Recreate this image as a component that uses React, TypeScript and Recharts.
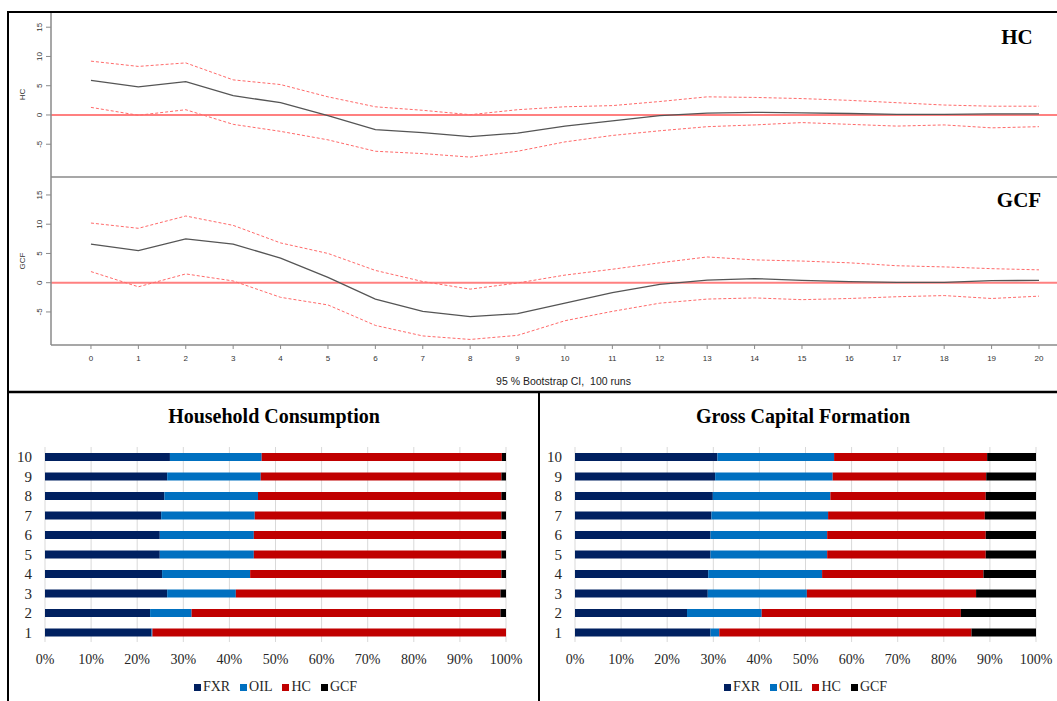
import {
  Bar,
  BarChart,
  CartesianGrid,
  Line,
  LineChart,
  ReferenceLine,
  XAxis,
  YAxis,
} from "recharts";

// impulse response horizon
const horizon = [0, 1, 2, 3, 4, 5, 6, 7, 8, 9, 10, 11, 12, 13, 14, 15, 16, 17, 18, 19, 20];

// response of HC
const hcIrf = [5.9, 4.8, 5.7, 3.3, 2.1, -0.1, -2.5, -3.0, -3.7, -3.1, -1.9, -1.0, -0.1, 0.3, 0.45, 0.35, 0.25, 0.1, 0.1, 0.2, 0.2];
const hcUpper = [9.2, 8.3, 8.9, 6.0, 5.2, 3.1, 1.4, 0.8, 0.05, 0.9, 1.4, 1.6, 2.3, 3.1, 3.0, 2.8, 2.5, 2.1, 1.7, 1.5, 1.5];
const hcLower = [1.3, -0.05, 0.9, -1.6, -2.8, -4.25, -6.2, -6.6, -7.2, -6.2, -4.6, -3.5, -2.7, -2.0, -1.7, -1.3, -1.6, -1.9, -1.7, -2.2, -2.0];

// response of GCF
const gcfIrf = [6.6, 5.5, 7.5, 6.6, 4.2, 0.9, -2.8, -4.9, -5.8, -5.3, -3.5, -1.7, -0.3, 0.45, 0.7, 0.4, 0.2, 0.05, 0.05, 0.35, 0.4];
const gcfUpper = [10.2, 9.3, 11.4, 9.8, 6.8, 5.0, 2.1, 0.2, -1.1, -0.05, 1.3, 2.3, 3.4, 4.4, 3.9, 3.7, 3.4, 2.9, 2.7, 2.4, 2.2];
const gcfLower = [1.9, -0.7, 1.5, 0.3, -2.5, -3.8, -7.3, -9.1, -9.7, -9.0, -6.5, -4.9, -3.5, -2.8, -2.6, -2.9, -2.7, -2.4, -2.2, -2.7, -2.3];

const irfTicks = [-5, 0, 5, 10, 15];

// variance decomposition, periods 1..10 (shares in %)
const periods = ["1", "2", "3", "4", "5", "6", "7", "8", "9", "10"];

const hcFxr = [23.1, 22.8, 26.5, 25.4, 24.9, 24.9, 25.2, 25.9, 26.5, 27.1];
const hcOil = [0.2, 9.0, 14.9, 19.1, 20.4, 20.4, 20.3, 20.3, 20.3, 19.9];
const hcHc = [76.7, 67.0, 57.4, 54.5, 53.7, 53.7, 53.5, 52.8, 52.2, 52.1];
const hcGcf = [0.0, 1.2, 1.2, 1.0, 1.0, 1.0, 1.0, 1.0, 1.0, 0.9];

const gcfFxr = [29.4, 24.3, 28.8, 28.9, 29.4, 29.4, 29.6, 29.9, 30.4, 30.9];
const gcfOil = [1.9, 16.2, 21.5, 24.7, 25.3, 25.3, 25.3, 25.5, 25.5, 25.3];
const gcfHc = [54.7, 43.2, 36.7, 35.0, 34.4, 34.4, 34.0, 33.7, 33.3, 33.2];
const gcfGcf = [14.0, 16.3, 13.0, 11.4, 10.9, 10.9, 11.1, 10.9, 10.8, 10.6];

const shareTicks = [0, 10, 20, 30, 40, 50, 60, 70, 80, 90, 100];

const SANS = '"Liberation Sans", Arial, sans-serif';
const SERIF = '"Liberation Serif", "Times New Roman", serif';
const AXIS_GREY = "#8a8a8a";

const shocks = [
  { key: "FXR", color: "#002060" },
  { key: "OIL", color: "#0070C0" },
  { key: "HC", color: "#C00000" },
  { key: "GCF", color: "#000000" },
];

function irfRows(irf: number[], upper: number[], lower: number[]) {
  return horizon.map((h, i) => ({ h, irf: irf[i], upper: upper[i], lower: lower[i] }));
}

function shareRows(fxr: number[], oil: number[], hc: number[], gcf: number[]) {
  return periods.map((period, i) => ({
    period,
    FXR: fxr[i],
    OIL: oil[i],
    HC: hc[i],
    GCF: gcf[i],
  }));
}

function RotatedTick(props: any) {
  const { x, y, payload } = props;
  return (
    <text
      x={x}
      y={y}
      transform={`rotate(-90 ${x} ${y})`}
      textAnchor="middle"
      fontSize={8}
      fontFamily={SANS}
      fill="#333"
    >
      {payload.value}
    </text>
  );
}

type IrfPanelProps = {
  rows: ReturnType<typeof irfRows>;
  domain: [number, number];
  top: number;
  height: number;
  showX: boolean;
};

function IrfPanel({ rows, domain, top, height, showX }: IrfPanelProps) {
  return (
    <div style={{ position: "absolute", left: 8, top, width: 1049, height }}>
      <LineChart
        width={1049}
        height={height}
        data={rows}
        margin={{ top: 0, right: 0, bottom: 0, left: 0 }}
      >
        <XAxis
          dataKey="h"
          type="number"
          domain={[-0.843, 20.38]}
          allowDataOverflow
          ticks={horizon}
          interval={0}
          height={showX ? 47 : 1}
          tick={showX ? { fontSize: 8, fontFamily: SANS, fill: "#333" } : false}
          tickLine={showX ? { stroke: AXIS_GREY } : false}
          tickSize={4}
          tickMargin={6}
          axisLine={{ stroke: AXIS_GREY, strokeWidth: 1.5 }}
        />
        <YAxis
          width={43}
          type="number"
          domain={domain}
          allowDataOverflow
          ticks={irfTicks}
          interval={0}
          tick={<RotatedTick />}
          tickSize={5}
          tickMargin={4}
          tickLine={{ stroke: AXIS_GREY }}
          axisLine={{ stroke: AXIS_GREY, strokeWidth: 1.5 }}
        />
        <ReferenceLine y={0} stroke="#ff8080" strokeWidth={2} />
        <Line
          dataKey="upper"
          type="linear"
          stroke="#ff6a6a"
          strokeWidth={1}
          strokeDasharray="3 2"
          dot={false}
          isAnimationActive={false}
        />
        <Line
          dataKey="lower"
          type="linear"
          stroke="#ff6a6a"
          strokeWidth={1}
          strokeDasharray="3 2"
          dot={false}
          isAnimationActive={false}
        />
        <Line
          dataKey="irf"
          type="linear"
          stroke="#555"
          strokeWidth={1.3}
          dot={false}
          isAnimationActive={false}
        />
      </LineChart>
    </div>
  );
}

function ShareLegend({ left }: { left: number }) {
  return (
    <div
      style={{
        position: "absolute",
        left,
        top: 679,
        width: 461,
        height: 16,
        display: "flex",
        justifyContent: "center",
        alignItems: "center",
        fontFamily: SERIF,
        fontSize: 14,
        color: "#262626",
        lineHeight: "16px",
      }}
    >
      {shocks.map((s) => (
        <span
          key={s.key}
          style={{ display: "flex", alignItems: "center", margin: "0 5px" }}
        >
          <span
            style={{
              display: "inline-block",
              width: 7,
              height: 7,
              background: s.color,
              marginRight: 2,
            }}
          />
          {s.key}
        </span>
      ))}
    </div>
  );
}

function ShareChart({ rows, left }: { rows: ReturnType<typeof shareRows>; left: number }) {
  return (
    <>
      <div style={{ position: "absolute", left, top: 440, width: 530, height: 234 }}>
        <BarChart
          width={530}
          height={234}
          data={rows}
          layout="vertical"
          margin={{ top: 7, right: 24, bottom: 0, left: 0 }}
        >
          <CartesianGrid horizontal={false} stroke="#d9d9d9" />
          <XAxis
            type="number"
            domain={[0, 100]}
            ticks={shareTicks}
            interval={0}
            tickFormatter={(v) => `${v}%`}
            height={32}
            axisLine={false}
            tickLine={false}
            tickSize={0}
            tickMargin={12}
            tick={{ fontSize: 14, fontFamily: SERIF, fill: "#262626" }}
          />
          <YAxis
            type="category"
            dataKey="period"
            reversed
            width={45}
            axisLine={false}
            tickLine={false}
            tickSize={0}
            tickMargin={13}
            interval={0}
            tick={{ fontSize: 15, fontFamily: SERIF, fill: "#262626" }}
          />
          {shocks.map((s) => (
            <Bar
              key={s.key}
              dataKey={s.key}
              stackId="share"
              fill={s.color}
              barSize={8}
              isAnimationActive={false}
            />
          ))}
        </BarChart>
      </div>
      <ShareLegend left={left + 45} />
    </>
  );
}

export default function App() {
  const hcData = irfRows(hcIrf, hcUpper, hcLower);
  const gcfData = irfRows(gcfIrf, gcfUpper, gcfLower);
  const hcShares = shareRows(hcFxr, hcOil, hcHc, hcGcf);
  const gcfShares = shareRows(gcfFxr, gcfOil, gcfHc, gcfGcf);

  return (
    <div
      style={{
        position: "absolute",
        left: 0,
        top: 0,
        width: 1057,
        height: 701,
        overflow: "hidden",
        background: "#fff",
      }}
    >
      <IrfPanel rows={hcData} domain={[-10.6, 17.6]} top={12} height={166} showX={false} />
      <IrfPanel rows={gcfData} domain={[-10.65, 18.07]} top={177} height={215} showX />

      <ShareChart rows={hcShares} left={0} />
      <ShareChart rows={gcfShares} left={530} />

      {/* frames, panel titles and captions */}
      <svg
        width={1057}
        height={701}
        style={{ position: "absolute", left: 0, top: 0, pointerEvents: "none" }}
      >
        <line x1={8} y1={12} x2={1057} y2={12} stroke="#000" strokeWidth={2} />
        <line x1={8} y1={11} x2={8} y2={701} stroke="#000" strokeWidth={2} />
        <line x1={8} y1={392} x2={1057} y2={392} stroke="#000" strokeWidth={2.5} />
        <line x1={539} y1={392} x2={539} y2={701} stroke="#000" strokeWidth={2} />

        <text x={25} y={94.5} transform="rotate(-90 25 94.5)" textAnchor="middle" fontSize={8} fontFamily={SANS} fill="#333">
          HC
        </text>
        <text x={25} y={261} transform="rotate(-90 25 261)" textAnchor="middle" fontSize={8} fontFamily={SANS} fill="#333">
          GCF
        </text>

        <text x={1017} y={44} textAnchor="middle" fontSize={21} fontWeight="bold" fontFamily={SERIF}>
          HC
        </text>
        <text x={1019} y={207} textAnchor="middle" fontSize={21} fontWeight="bold" fontFamily={SERIF}>
          GCF
        </text>

        <text x={563.5} y={385} textAnchor="middle" fontSize={10.5} fontFamily={SANS} fill="#222" style={{ whiteSpace: "pre" }}>
          95 % Bootstrap CI,  100 runs
        </text>

        <text x={274} y={423} textAnchor="middle" fontSize={20} fontWeight="bold" fontFamily={SERIF}>
          Household Consumption
        </text>
        <text x={803} y={423} textAnchor="middle" fontSize={20} fontWeight="bold" fontFamily={SERIF}>
          Gross Capital Formation
        </text>
      </svg>
    </div>
  );
}
